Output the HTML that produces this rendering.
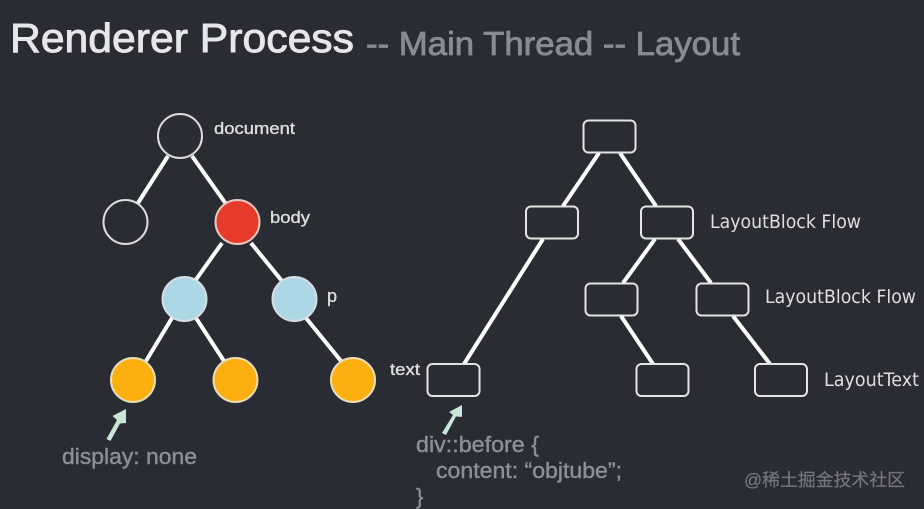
<!DOCTYPE html>
<html><head><meta charset="utf-8"><style>
html,body{margin:0;padding:0;background:#2a2c33;width:924px;height:509px;overflow:hidden}
svg{display:block;filter:blur(.35px)}
text{font-family:"Liberation Sans","Noto Sans CJK SC",sans-serif}
.d text{font-family:"DejaVu Sans",sans-serif}
</style></head><body>
<svg width="924" height="509" viewBox="0 0 924 509" xmlns="http://www.w3.org/2000/svg">
<rect width="924" height="509" fill="#2a2c33"/>
<text x="10" y="52" font-size="41" fill="#e6e7ea" stroke="#e6e7ea" stroke-width=".9" textLength="344" lengthAdjust="spacingAndGlyphs">Renderer Process</text>
<text x="366" y="55" font-size="33" fill="#878c94" stroke="#878c94" stroke-width=".8" textLength="374" lengthAdjust="spacingAndGlyphs">-- Main Thread -- Layout</text>
<g stroke="#fff" stroke-width="4" fill="none">
<path d="M168 156L138 203M192 156L226 204M222 243L195 281M251 243L282 281M172 318L146 361M196 318L224 361M306 318L341 361"/>
<path d="M599 153L563 206M620 153L656 206M543 239L464 364M655 239L623 283M678 239L711 283M621 316L653 364M733 316L770 364"/>
</g>
<g stroke="#dcdcdc" stroke-width="2">
<circle cx="180" cy="136" r="22" fill="#2a2c33"/>
<circle cx="125.500" cy="222" r="22" fill="#2a2c33"/>
<circle cx="237.500" cy="222" r="22" fill="#e63a2b" stroke="#e8c8c0"/>
<circle cx="184.500" cy="299" r="22" fill="#acd8e6" stroke="#d5dde2"/>
<circle cx="294.500" cy="299" r="22" fill="#acd8e6" stroke="#d5dde2"/>
<circle cx="133" cy="380" r="22" fill="#fbb010" stroke="#eadcb8"/>
<circle cx="235.500" cy="380" r="22" fill="#fbb010" stroke="#eadcb8"/>
<circle cx="353" cy="380" r="22" fill="#fbb010" stroke="#eadcb8"/>
</g>
<g stroke="#e4e4e4" stroke-width="2" fill="#2a2c33">
<rect x="583.500" y="120.500" width="52" height="32" rx="5"/>
<rect x="526" y="206.500" width="52" height="32" rx="5"/>
<rect x="641" y="206.500" width="52" height="32" rx="5"/>
<rect x="585.500" y="283.500" width="52" height="32" rx="5"/>
<rect x="696.500" y="283.500" width="52" height="32" rx="5"/>
<rect x="427.500" y="364" width="52" height="32" rx="5"/>
<rect x="636.500" y="364" width="52" height="32" rx="5"/>
<rect x="755" y="364" width="52" height="32" rx="5"/>
</g>
<g font-size="17" fill="#dfdfe0" stroke="#dfdfe0" stroke-width=".35">
<text x="214" y="134" textLength="81" lengthAdjust="spacingAndGlyphs">document</text>
<text x="270" y="223" textLength="40" lengthAdjust="spacingAndGlyphs">body</text>
<text x="327" y="302" font-size="18">p</text>
<text x="390" y="375" textLength="30" lengthAdjust="spacingAndGlyphs">text</text>
</g>
<g class="d" font-size="19" fill="#dfdfe0">
<text x="710" y="228" textLength="151" lengthAdjust="spacingAndGlyphs">LayoutBlock Flow</text>
<text x="765" y="303" textLength="151" lengthAdjust="spacingAndGlyphs">LayoutBlock Flow</text>
<text x="824" y="386" textLength="95" lengthAdjust="spacingAndGlyphs">LayoutText</text>
</g>
<g fill="#8b9097" stroke="#8b9097" stroke-width=".4" font-size="22">
<text x="62" y="464" textLength="135" lengthAdjust="spacingAndGlyphs">display: none</text>
<text x="416" y="452" textLength="123" lengthAdjust="spacingAndGlyphs">div::before {</text>
<text x="436" y="478" textLength="186" lengthAdjust="spacingAndGlyphs">content: “objtube”;</text>
<text x="416" y="504">}</text>
</g>
<g fill="#c9e6da" stroke="none">
<path d="M106.500 439L110.500 441L120 423.500L126 423L126 409L112.500 416L117 420Z"/>
<path d="M442 433L446 435L456 416.500L462 417L462 405L449 412L453 415Z"/>
</g>
<text x="744" y="486" font-size="17.500" fill="#73767c" stroke="#73767c" stroke-width=".2" textLength="161" lengthAdjust="spacingAndGlyphs">@稀土掘金技术社区</text>
</svg>
</body></html>
